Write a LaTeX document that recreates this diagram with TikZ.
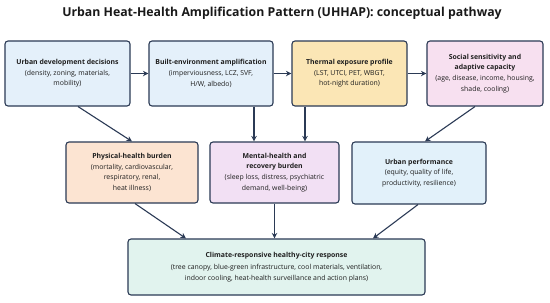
\documentclass[tikz,border=0pt]{standalone}
\usepackage{fontspec}
\setmainfont{Open Sans}
\usetikzlibrary{arrows.meta}
\definecolor{navy}{HTML}{2B3A55}
\definecolor{cblue}{HTML}{E4F0FA}
\definecolor{cyellow}{HTML}{FBE6B5}
\definecolor{cpink}{HTML}{F7E0F0}
\definecolor{cpeach}{HTML}{FCE4D2}
\definecolor{clav}{HTML}{F2E0F4}
\definecolor{cperf}{HTML}{E2F1FA}
\definecolor{cmint}{HTML}{E1F3EE}
\begin{document}
\begin{tikzpicture}[x=1pt,y=-1pt,
  box/.style={draw=navy, line width=1.1pt, rounded corners=3pt, align=center,
    font=\fontsize{6.9}{10.6}\selectfont, inner sep=0pt, text=black!88},
  arr/.style={-{Stealth[length=5.5pt,width=5.5pt]}, draw=navy, line width=1.1pt}]
\useasboundingbox[fill=white] (0,0) rectangle (550,303);
\node[font=\fontsize{12.3}{14}\selectfont\bfseries, text=black!90] (title) at (282,13)
  {Urban Heat-Health Amplification Pattern (UHHAP): conceptual pathway};
\node[box, fill=cblue, minimum width=125pt, minimum height=65pt] (b1) at (67.5,73.5)
  {\textbf{Urban development decisions}\\(density, zoning, materials,\\mobility)};
\node[box, fill=cblue, minimum width=124pt, minimum height=65pt] (b2) at (211,73.5)
  {\textbf{Built-environment amplification}\\(imperviousness, LCZ, SVF,\\H/W, albedo)};
\node[box, fill=cyellow, minimum width=115pt, minimum height=65pt] (b3) at (349.5,73.5)
  {\textbf{Thermal exposure profile}\\(LST, UTCI, PET, WBGT,\\hot-night duration)};
\node[box, fill=cpink, minimum width=116pt, minimum height=65pt] (b4) at (485,73.5)
  {\textbf{Social sensitivity and}\\\textbf{adaptive capacity}\\(age, disease, income, housing,\\shade, cooling)};
\node[box, fill=cpeach, minimum width=132pt, minimum height=61pt] (phys) at (132,172.5)
  {\textbf{Physical-health burden}\\(mortality, cardiovascular,\\respiratory, renal,\\heat illness)};
\node[box, fill=clav, minimum width=129pt, minimum height=61pt] (ment) at (274.5,172.5)
  {\textbf{Mental-health and}\\\textbf{recovery burden}\\(sleep loss, distress, psychiatric\\demand, well-being)};
\node[box, fill=cperf, minimum width=134pt, minimum height=62pt] (perf) at (419,173)
  {\textbf{Urban performance}\\(equity, quality of life,\\productivity, resilience)};
\node[box, fill=cmint, minimum width=297pt, minimum height=56pt] (resp) at (276.5,267)
  {\textbf{Climate-responsive healthy-city response}\\[1.5pt](tree canopy, blue-green infrastructure, cool materials, ventilation,\\indoor cooling, heat-health surveillance and action plans)};
\draw[arr] (b1.east) -- (b2.west);
\draw[arr] (b2.east) -- (b3.west);
\draw[arr] (b3.east) -- (b4.west);
\draw[arr] ([xshift=10.5pt]b1.south) -- (phys.north);
\draw[arr] ([xshift=43pt]b2.south) -- ([xshift=-20.5pt]ment.north);
\draw[arr] ([xshift=-44.5pt]b3.south) -- ([xshift=30.5pt]ment.north);
\draw[arr] ([xshift=-10pt]b4.south) -- ([xshift=6pt]perf.north);
\draw[arr] ([xshift=3pt]phys.south) -- ([xshift=-90.5pt]resp.north);
\draw[arr] (ment.south) -- (ment.south |- resp.north);
\draw[arr] ([xshift=-1pt]perf.south) -- ([xshift=96.5pt]resp.north);
\end{tikzpicture}
\end{document}
